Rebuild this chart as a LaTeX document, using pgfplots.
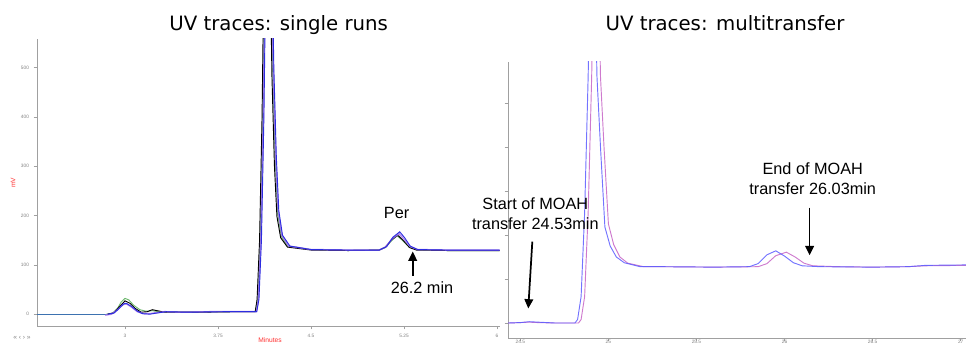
\documentclass[border=0pt]{standalone}
\usepackage{fontspec}
\setmainfont{Liberation Sans}
\newfontfamily\titlefont{DejaVu Sans}
\usepackage{pgfplots}
\pgfplotsset{compat=1.18}
\usetikzlibrary{arrows.meta}

\definecolor{axgray}{HTML}{A0A0A0}
\definecolor{lblred}{HTML}{FF3030}
\definecolor{trgreen}{HTML}{6DB86D}
\definecolor{trblue}{HTML}{2C2CE0}
\definecolor{trpurple}{HTML}{9A6AE8}
\definecolor{trsteel}{HTML}{3D72B0}
\definecolor{mtblue}{HTML}{5A5AFF}
\definecolor{mtmag}{HTML}{C563C5}

\pgfplotsset{
  chroma/.style={
    scale only axis,
    axis x line*=bottom, axis y line*=left,
    axis line style={axgray, line width=0.7pt, -},
    tick style={axgray, line width=0.5pt},
    tick align=outside, major tick length=2.5pt,
    ticklabel style={font=\fontsize{3.6}{4}\selectfont, text=gray},
    /pgf/number format/assume math mode=true,
    clip mode=individual,
  },
}
\tikzset{
  note/.style={font=\fontsize{12.2}{14.5}\selectfont, align=center, text=black},
  arr/.style={-{Triangle[width=6.5pt,length=7pt]}, line width=1.3pt, black},
}

\begin{document}
\begin{tikzpicture}
\path[use as bounding box] (0,0) rectangle (724.5pt,261pt);

% ---------------- single runs ----------------
\begin{axis}[chroma,
  at={(27.75pt,16.5pt)}, anchor=south west,
  width=347.25pt, height=215.25pt,
  xmin=2.29, xmax=6.024, ymin=-24, ymax=558,
  xtick={3,3.75,4.5,5.25,6}, xticklabels={3,3.75,4.5,5.25,6},
  ytick={0,100,200,300,400,500},
]
% common baseline before injection
\addplot[trsteel, line width=0.7pt] coordinates {(2.29,0) (2.87,0)};
% green run
\addplot[trgreen, line width=0.7pt] coordinates {
 (2.85,0) (2.90,2) (2.94,12) (2.97,25) (3.00,32) (3.03,29) (3.07,18) (3.12,9) (3.17,6)
 (3.22,7) (3.27,5) (3.35,4) (3.6,4) (3.9,5) (4.05,5) (4.07,30) (4.09,150) (4.11,400)
 (4.13,800) (4.15,1100) (4.17,800) (4.19,500) (4.21,320) (4.23,205) (4.26,158) (4.31,138)
 (4.5,131) (4.8,129) (5.05,130) (5.10,135) (5.15,149) (5.195,159) (5.24,149) (5.29,136)
 (5.35,131) (5.6,129) (6.02,129)};
% black run
\addplot[black, line width=0.7pt] coordinates {
 (2.86,0) (2.91,3) (2.95,14) (3.00,27) (3.04,22) (3.08,12) (3.13,4) (3.18,5)
 (3.22,9) (3.26,7) (3.32,4) (3.6,4) (3.9,5) (4.05,5) (4.065,30) (4.085,150) (4.105,400)
 (4.125,800) (4.145,1100) (4.165,800) (4.185,480) (4.205,300) (4.225,198) (4.255,155) (4.31,136)
 (4.5,130) (4.8,129) (5.05,130) (5.10,136) (5.15,151) (5.20,160) (5.245,149) (5.295,135)
 (5.35,130) (5.6,129) (6.02,129)};
% purple run
\addplot[trpurple, line width=1.1pt, opacity=0.8] coordinates {
 (2.84,-2) (2.89,0) (2.94,9) (2.98,19) (3.01,21) (3.05,15) (3.10,5) (3.15,1) (3.20,1)
 (3.25,3) (3.32,5) (3.45,4) (3.7,5) (3.95,5) (4.06,5) (4.075,30) (4.095,150) (4.115,400)
 (4.135,800) (4.155,1100) (4.175,800) (4.195,500) (4.215,320) (4.235,210) (4.265,160) (4.32,138)
 (4.5,131) (4.8,130) (5.05,130) (5.10,136) (5.155,153) (5.21,163) (5.25,152) (5.30,137)
 (5.36,131) (5.6,130) (6.02,130)};
% blue run
\addplot[trblue, line width=0.7pt] coordinates {
 (2.86,0) (2.91,2) (2.95,11) (2.99,21) (3.01,22) (3.05,16) (3.10,6) (3.14,1) (3.20,0)
 (3.25,2) (3.33,5) (3.5,4) (3.8,5) (4.0,5) (4.062,5) (4.08,30) (4.10,150) (4.12,400)
 (4.14,800) (4.16,1100) (4.18,800) (4.20,500) (4.22,320) (4.24,210) (4.27,160) (4.33,138)
 (4.5,131) (4.8,130) (5.05,130) (5.11,137) (5.16,156) (5.215,167) (5.255,155) (5.30,138)
 (5.36,131) (5.6,130) (6.02,130)};
\node[note, anchor=base] at (axis cs:5.19,195) {Per};
\draw[arr] (axis cs:5.32,78) -- (axis cs:5.32,127);
\node[note, anchor=base] at (axis cs:5.395,42) {26.2 min};
\end{axis}

% ---------------- multitransfer ----------------
\begin{axis}[chroma,
  at={(381pt,7.5pt)}, anchor=south west,
  width=343.5pt, height=207pt,
  xmin=24.43, xmax=27.03, ymin=-34, ymax=593,
  xtick={24.5,25,25.5,26,26.5,27}, xticklabels={24.5,25,25.5,26,26.5,27},
  xticklabel style={inner sep=0.5pt, yshift=1.8pt},
  ytick={0,100,200,300,400,500}, yticklabels={},
]
\addplot[mtmag, line width=0.7pt, opacity=0.85] coordinates {
 (24.43,0) (24.50,1) (24.55,2) (24.60,1) (24.70,0) (24.83,0) (24.845,8) (24.865,60)
 (24.885,250) (24.905,560) (24.93,1100) (24.955,560) (24.975,400) (25.00,225) (25.03,178)
 (25.065,150) (25.11,136) (25.20,128) (25.3,128) (25.6,127) (25.85,128) (25.90,135)
 (25.95,153) (26.01,161) (26.06,150) (26.11,136) (26.16,130) (26.3,128) (26.5,127)
 (26.7,128) (26.8,130) (27.03,131)};
\addplot[mtblue, line width=0.7pt, opacity=0.85] coordinates {
 (24.43,0) (24.50,1) (24.55,3) (24.60,2) (24.70,0) (24.81,0) (24.825,8) (24.845,60)
 (24.865,250) (24.885,560) (24.91,1100) (24.935,560) (24.955,400) (24.98,218) (25.01,175)
 (25.045,150) (25.09,137) (25.18,128) (25.3,128) (25.6,127) (25.80,128) (25.85,135)
 (25.90,155) (25.95,164) (26.00,152) (26.05,137) (26.10,130) (26.2,128) (26.5,127)
 (26.7,128) (26.8,131) (27.03,132)};
\node[note, anchor=base] at (axis cs:24.585,213) {Start of MOAH\\transfer 24.53min};
\draw[arr] (axis cs:24.568,185) -- (axis cs:24.545,33);
\node[note, anchor=base] at (axis cs:26.16,293) {End of MOAH\\transfer 26.03min};
\draw[arr] (axis cs:26.142,262) -- (axis cs:26.142,154);
\end{axis}

% ---------------- titles and frame labels ----------------
\node[font=\titlefont\fontsize{14.8}{17}\selectfont, anchor=base] at (209pt,237.75pt) {UV traces: single runs};
\node[font=\titlefont\fontsize{14.8}{17}\selectfont, anchor=base] at (543.75pt,237.75pt) {UV traces: multitransfer};
\node[font=\fontsize{5}{6}\selectfont, text=lblred, rotate=90] at (9.75pt,123.75pt) {mV};
\node[font=\fontsize{5}{6}\selectfont, text=lblred] at (202.5pt,6pt) {Minutes};
\node[font=\fontsize{5}{6}\selectfont, text=gray] at (16.5pt,7.5pt) {« ‹ › »};
\end{tikzpicture}
\end{document}
